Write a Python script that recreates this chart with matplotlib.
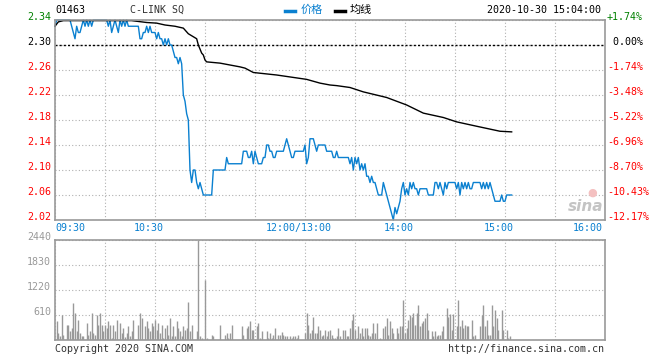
import matplotlib
matplotlib.use('Agg')
import matplotlib.pyplot as plt

plt.rcParams['font.family'] = ['DejaVu Sans Mono', 'Noto Sans CJK SC']

# minute index from 09:30 (12:00/13:00 = 150, 16:00 = 330)
prev_close = 2.30
prices = [
    2.33, 2.34, 2.34, 2.34, 2.34, 2.34, 2.34, 2.34, 2.34, 2.34,
    2.33, 2.32, 2.31, 2.33, 2.32, 2.32, 2.33, 2.34, 2.33, 2.34,
    2.33, 2.34, 2.33, 2.34, 2.34, 2.34, 2.34, 2.34, 2.34, 2.34,
    2.34, 2.34, 2.33, 2.34, 2.32, 2.33, 2.34, 2.33, 2.32, 2.34,
    2.33, 2.34, 2.33, 2.34, 2.33, 2.33, 2.33, 2.33, 2.33, 2.33,
    2.33, 2.31, 2.31, 2.32, 2.32, 2.33, 2.32, 2.33, 2.32, 2.32,
    2.32, 2.31, 2.32, 2.31, 2.31, 2.30, 2.31, 2.30, 2.31, 2.30,
    2.30, 2.29, 2.28, 2.28, 2.27, 2.28, 2.27, 2.22, 2.21, 2.19,
    2.18, 2.10, 2.08, 2.10, 2.10, 2.08, 2.07, 2.08, 2.07, 2.06,
    2.06, 2.06, 2.06, 2.06, 2.06, 2.10, 2.10, 2.10, 2.10, 2.10,
    2.10, 2.10, 2.10, 2.12, 2.11, 2.11, 2.11, 2.11, 2.11, 2.11,
    2.11, 2.11, 2.11, 2.13, 2.13, 2.13, 2.12, 2.12, 2.13, 2.11,
    2.13, 2.12, 2.11, 2.11, 2.11, 2.12, 2.12, 2.14, 2.14, 2.13,
    2.13, 2.12, 2.12, 2.13, 2.13, 2.13, 2.13, 2.13, 2.14, 2.15,
    2.14, 2.13, 2.12, 2.12, 2.13, 2.13, 2.13, 2.13, 2.13, 2.13,
    2.14, 2.11, 2.12, 2.15, 2.15, 2.15, 2.14, 2.13, 2.14, 2.14,
    2.14, 2.14, 2.14, 2.13, 2.13, 2.13, 2.13, 2.12, 2.12, 2.13,
    2.12, 2.12, 2.12, 2.12, 2.12, 2.12, 2.12, 2.11, 2.12, 2.10,
    2.12, 2.11, 2.12, 2.10, 2.11, 2.10, 2.11, 2.09, 2.09, 2.08,
    2.09, 2.08, 2.08, 2.07, 2.06, 2.06, 2.06, 2.08, 2.07, 2.06,
    2.05, 2.04, 2.03, 2.02, 2.04, 2.03, 2.04, 2.05, 2.07, 2.08,
    2.06, 2.07, 2.06, 2.08, 2.07, 2.08, 2.07, 2.07, 2.06, 2.07,
    2.07, 2.07, 2.07, 2.07, 2.06, 2.06, 2.06, 2.06, 2.08, 2.08,
    2.07, 2.08, 2.07, 2.06, 2.08, 2.07, 2.08, 2.08, 2.08, 2.08,
    2.08, 2.07, 2.08, 2.06, 2.08, 2.07, 2.08, 2.07, 2.08, 2.07,
    2.07, 2.08, 2.08, 2.08, 2.08, 2.08, 2.07, 2.08, 2.07, 2.08,
    2.07, 2.08, 2.07, 2.06, 2.05, 2.05, 2.05, 2.05, 2.06, 2.05,
    2.05, 2.06, 2.06, 2.06, 2.06,
]

avg_minute = [0, 2, 5, 46, 55, 61, 66, 72, 77, 80, 85, 86, 88, 89, 90, 91,
              99, 105, 111, 114, 119, 133, 151, 159, 165, 169, 177, 185,
              199, 211, 221, 233, 241, 253, 267, 274]
avg_price = [2.330, 2.337, 2.339, 2.339, 2.336, 2.335, 2.332, 2.330, 2.327,
             2.318, 2.310, 2.300, 2.287, 2.284, 2.276, 2.273, 2.271, 2.268,
             2.265, 2.263, 2.256, 2.252, 2.245, 2.239, 2.236, 2.235, 2.232,
             2.225, 2.216, 2.204, 2.191, 2.184, 2.177, 2.170, 2.162, 2.161]

vol_minute = [1, 2, 3, 4, 5, 7, 8, 9, 10, 11, 12, 13, 14, 15, 16, 17, 19, 20,
              21, 22, 23, 24, 25, 26, 27, 28, 29, 30, 31, 32, 33, 34, 35, 36,
              37, 39, 40, 41, 42, 43, 44, 45, 46, 47, 50, 51, 52, 54, 55, 56,
              57, 58, 59, 60, 61, 62, 63, 64, 65, 66, 67, 68, 69, 70, 71, 72,
              73, 74, 75, 76, 77, 78, 79, 80, 81, 82, 85, 86, 87, 88, 90, 91,
              94, 95, 99, 102, 103, 104, 105, 106, 112, 113, 115, 116, 117,
              118, 119, 121, 122, 123, 124, 127, 128, 129, 130, 131, 132, 134,
              135, 136, 137, 138, 139, 141, 142, 143, 144, 145, 146,
              150, 151, 152, 153, 154, 155, 156, 157, 158, 159, 160, 161, 162,
              163, 164, 165, 166, 167, 168, 169, 170, 171, 173, 174, 175, 176,
              177, 178, 179, 180, 181, 182, 183, 184, 185, 186, 187, 188, 189,
              190, 191, 192, 193, 195, 197, 198, 199, 200, 201, 202, 203, 205,
              206, 207, 208, 209, 210, 211, 212, 213, 214, 215, 216, 217, 218,
              219, 220, 221, 222, 223, 224, 226, 227, 228, 229, 230, 231, 232,
              233, 235, 236, 237, 238, 239, 241, 242, 243, 244, 245, 246, 247,
              248, 250, 251, 252, 255, 256, 257, 258, 259, 260, 261, 262, 263,
              264, 265, 266, 268, 269, 271, 272, 273]
vol_value = [470, 170, 105, 600, 120, 365, 365, 230, 290, 900, 660, 230, 480,
             170, 100, 100, 415, 120, 230, 660, 170, 120, 600, 365, 660, 365,
             230, 365, 290, 470, 365, 50, 365, 230, 480, 415, 170, 290, 80,
             170, 340, 105, 230, 480, 365, 660, 535, 340, 470, 290, 230, 415,
             340, 480, 250, 415, 170, 365, 50, 290, 365, 130, 535, 105, 340,
             100, 470, 290, 230, 105, 340, 250, 290, 925, 230, 365, 230, 2440,
             105, 55, 1470, 55, 120, 105, 365, 120, 170, 55, 170, 365, 340,
             120, 290, 340, 470, 250, 250, 340, 415, 55, 230, 230, 55, 170, 55,
             120, 290, 115, 120, 195, 115, 100, 100, 100, 50, 100, 100, 50, 120,
             170, 660, 375, 170, 250, 560, 170, 170, 340, 235, 100, 120, 245,
             100, 220, 245, 120, 40, 50, 100, 295, 100, 245, 245, 100, 100, 295,
             495, 625, 245, 50, 340, 170, 295, 100, 295, 295, 120, 100, 170,
             415, 170, 415, 50, 295, 340, 535, 120, 465, 295, 170, 295, 170,
             340, 340, 975, 170, 295, 495, 610, 560, 660, 365, 660, 855, 340,
             415, 465, 535, 660, 245, 220, 100, 220, 100, 120, 120, 220, 340,
             780, 560, 635, 245, 635, 340, 975, 340, 490, 295, 365, 340, 340,
             490, 100, 120, 340, 610, 855, 340, 490, 120, 120, 855, 340, 730,
             535, 245, 730, 245, 245, 50, 100]

price_ticks = [2.34, 2.30, 2.26, 2.22, 2.18, 2.14, 2.10, 2.06, 2.02]
vol_ticks = [610, 1220, 1830, 2440]
time_ticks = [0, 60, 150, 210, 270, 330]
time_labels = ['09:30', '10:30', '12:00/13:00', '14:00', '15:00', '16:00']

PX = 0.72  # points per pixel at dpi 100
BLUE = '#0a80d0'
GRID = '#b0b0b0'
FRAME = '#999999'

fig = plt.figure(figsize=(6.6, 3.6), dpi=100)
ax = fig.add_axes([55 / 660, 140 / 360, 550 / 660, 200 / 360])
axv = fig.add_axes([55 / 660, 20 / 360, 550 / 660, 100 / 360])

for a in (ax, axv):
    a.set_xlim(0, 330)
    a.set_xticks(range(0, 331, 30))
    a.tick_params(length=0, labelbottom=False, labelleft=False)
    a.grid(color=GRID, linestyle=(0, (1, 2)), linewidth=0.8)
    for s in a.spines.values():
        s.set_color(FRAME)
        s.set_linewidth(1.2)
        s.set_zorder(5)

# price panel
ax.set_ylim(2.02, 2.34)
ax.set_yticks(price_ticks)
ax.axhline(prev_close, color='black', linestyle=(0, (1.5, 1.5)), linewidth=1, zorder=3)
ax.plot(range(len(prices)), prices, color=BLUE, linewidth=1, zorder=4, clip_on=False)
ax.plot(avg_minute, avg_price, color='black', linewidth=1, zorder=4, clip_on=False)

for p in price_ticks:
    if p > prev_close:
        c = '#008000'
    elif p < prev_close:
        c = '#ff0000'
    else:
        c = 'black'
    pct = (p / prev_close - 1) * 100
    pct_txt = ' 0.00%' if abs(pct) < 1e-9 else f'{pct:+.2f}%'
    ax.annotate(f'{p:.2f}', xy=(0, p), xycoords=('axes fraction', 'data'),
                xytext=(-4 * PX, 0), textcoords='offset points',
                ha='right', va='baseline', color=c, fontsize=7.2)
    ax.annotate(pct_txt, xy=(1, p), xycoords=('axes fraction', 'data'),
                xytext=(2 * PX, 0), textcoords='offset points',
                ha='left', va='baseline', color=c, fontsize=7.2)

for i, (t, lab) in enumerate(zip(time_ticks, time_labels)):
    if i == 0:
        ha, dx = 'left', 0
    elif i == len(time_ticks) - 1:
        ha, dx = 'right', -2
    else:
        ha, dx = 'center', -6
    ax.annotate(lab, xy=(t, 0), xycoords=('data', 'axes fraction'),
                xytext=(dx * PX, -8 * PX), textcoords='offset points',
                ha=ha, va='center', color=BLUE, fontsize=7.2)

# sina watermark
fig.text(586 / 660, 1 - 207 / 360, 'sina', fontsize=11, color='#c4c4c4',
         style='italic', weight='bold', ha='center', va='center',
         family='DejaVu Sans')
fig.text(592 / 660, 1 - 193 / 360, '●', fontsize=8, color='#f4c0c0',
         ha='center', va='center', family='DejaVu Sans')

# volume panel
axv.set_ylim(0, 2440)
axv.set_yticks([0] + vol_ticks)
axv.vlines(vol_minute, 0, vol_value, colors='#999999', linewidth=1, zorder=3)
for v in vol_ticks:
    axv.annotate(str(v), xy=(0, v), xycoords=('axes fraction', 'data'),
                 xytext=(-4 * PX, 0), textcoords='offset points',
                 ha='right', va='baseline', color='#999999', fontsize=7.2)

# header and footer
fig.text(55 / 660, 1 - 13 / 360, '01463', fontsize=7.2, color='black', va='baseline')
fig.text(130 / 660, 1 - 13 / 360, 'C-LINK SQ', fontsize=7.2, color='#333333', va='baseline')
fig.add_artist(plt.Line2D([285 / 660, 295 / 660], [1 - 11 / 360] * 2, color=BLUE, linewidth=2.5))
fig.text(301 / 660, 1 - 13 / 360, '价格', fontsize=8, color=BLUE, va='baseline',
         family=['Noto Sans CJK SC', 'DejaVu Sans'])
fig.add_artist(plt.Line2D([335 / 660, 345 / 660], [1 - 11 / 360] * 2, color='black', linewidth=2.5))
fig.text(350 / 660, 1 - 13 / 360, '均线', fontsize=8, color='black', va='baseline',
         family=['Noto Sans CJK SC', 'DejaVu Sans'])
fig.text(601 / 660, 1 - 13 / 360, '2020-10-30 15:04:00', fontsize=7.2, color='black',
         ha='right', va='baseline')
fig.text(55 / 660, 1 - 352 / 360, 'Copyright 2020 SINA.COM', fontsize=7.2,
         color='#333333', va='baseline')
fig.text(604 / 660, 1 - 352 / 360, 'http://finance.sina.com.cn', fontsize=7.2,
         color='#333333', ha='right', va='baseline')

fig.savefig('out.png', dpi=100, facecolor='white')
